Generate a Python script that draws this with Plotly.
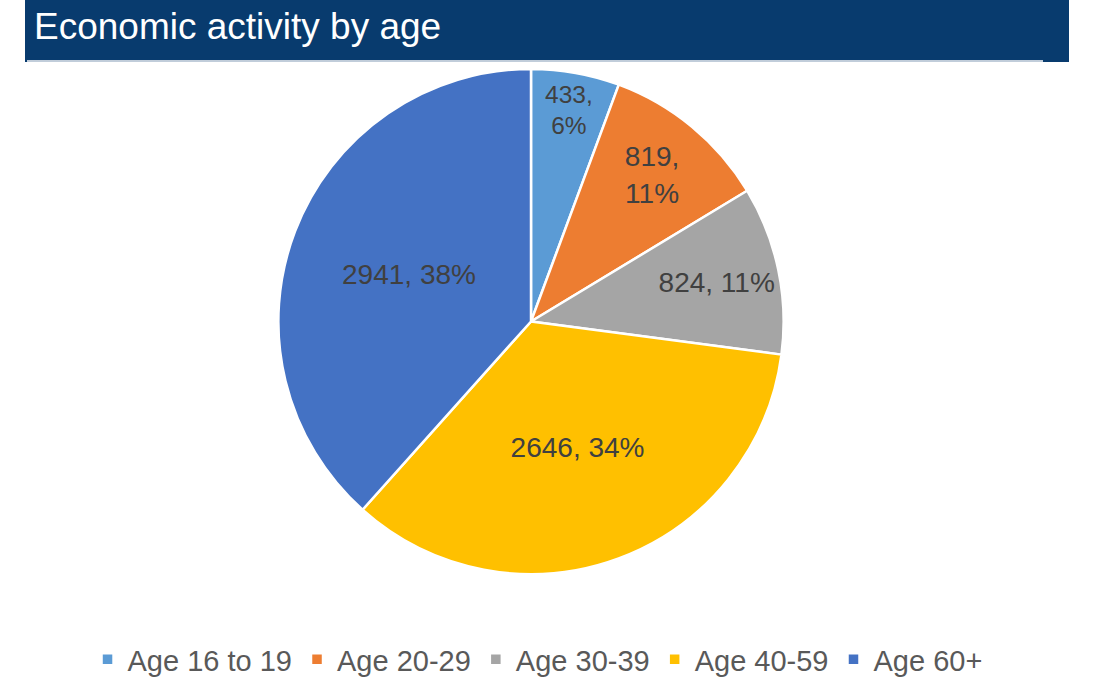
import plotly.graph_objects as go

categories = ["Age 16 to 19", "Age 20-29", "Age 30-39", "Age 40-59", "Age 60+"]
values = [433, 819, 824, 2646, 2941]
pct_labels = ["6%", "11%", "11%", "34%", "38%"]
colors = ["#5B9BD5", "#ED7D31", "#A5A5A5", "#FFC000", "#4472C4"]
templates = ["%{value},<br>%{text}", "%{value},<br>%{text}", "%{value}, %{text}",
             "%{value}, %{text}", "%{value}, %{text}"]

W, H = 1097, 685
cx, cy, r = 531, 322, 253

fig = go.Figure(go.Pie(
    labels=categories, values=values, text=pct_labels,
    texttemplate=templates, textinfo="text",
    sort=False, direction="clockwise", rotation=0,
    marker=dict(colors=colors, line=dict(color="white", width=2.5)),
    textposition="inside", insidetextorientation="horizontal",
    textfont=dict(family="Liberation Sans, Arial", size=28, color="#404040"),
    domain=dict(x=[(cx - r) / W, (cx + r) / W], y=[(H - cy - r) / H, (H - cy + r) / H]),
    hoverinfo="label+value",
))

fig.update_layout(
    width=W, height=H,
    margin=dict(l=0, r=0, t=0, b=0),
    paper_bgcolor="white", plot_bgcolor="white",
    showlegend=True,
    legend=dict(orientation="h", x=0.49, xanchor="center", y=(H - 660) / H, yanchor="middle",
                font=dict(family="Liberation Sans, Arial", size=29, color="#595959"),
                itemwidth=30, traceorder="normal"),
    shapes=[
        dict(type="rect", xref="paper", yref="paper", x0=25 / W, x1=1069 / W,
             y0=1 - 62 / H, y1=1, fillcolor="#083B6E", line=dict(width=0), layer="below"),
        dict(type="line", xref="paper", yref="paper", x0=27 / W, x1=1043 / W,
             y0=1 - 61 / H, y1=1 - 61 / H, line=dict(color="white", width=1.5)),
    ],
    annotations=[
        dict(text="Economic activity by age", xref="paper", yref="paper",
             x=32 / W, y=1 - 27 / H, xanchor="left", yanchor="middle", showarrow=False,
             font=dict(family="Liberation Sans, Arial", size=37, color="white")),
    ],
)

fig.write_html("out.html", config={"displayModeBar": False},
               post_script="document.body.style.margin='0';")
